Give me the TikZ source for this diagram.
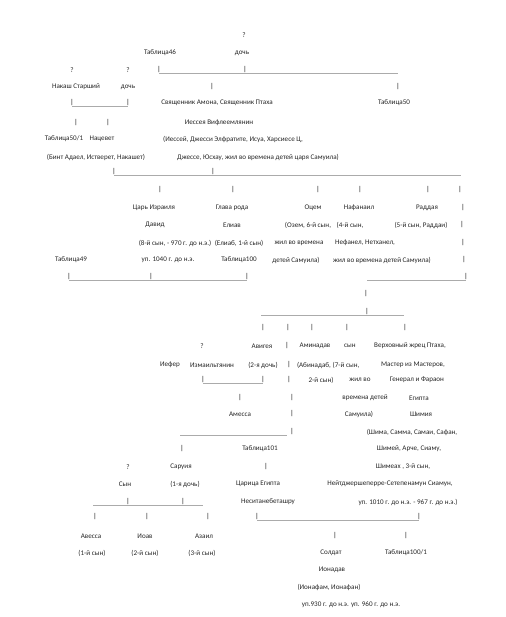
\documentclass[tikz,border=0pt]{standalone}
\usepackage{fontspec}
\setmainfont{Carlito}
\usepackage{xcolor}
\usepackage{tikz}
\definecolor{rulegray}{HTML}{ABABAB}
\definecolor{treetext}{HTML}{262626}

\begin{document}
\begin{tikzpicture}[
  x=1pt, y=-1pt,
  txt/.style={inner sep=0pt, font=\fontsize{7.1}{8}\selectfont, text=treetext},
  bar/.style={inner sep=0pt, font=\fontsize{7.1}{8}\selectfont},
  rule/.style={draw=rulegray, line width=0.9pt}
]
\useasboundingbox (0,0) rectangle (505,617);

% top generations
\node[txt] (q0) at (244,35) {?};
\node[txt] (t46) at (160,53) {Таблица46};
\node[txt] (d0) at (242,53) {дочь};
\node[txt] (q1) at (72,70) {?};
\node[txt] (q2) at (128,70) {?};
\node[bar] (b1) at (159,70) {|};
\node[bar] (b2) at (245,70) {|};
\coordinate (e1) at (398,70);
\draw[rule] (b1.south) -- (b2.south);
\draw[rule] (b2.south) -- (b2.south -| e1);

\node[txt] (nakash) at (76,87) {Накаш Старший};
\node[txt] (d1) at (128,87) {дочь};
\node[bar] (b3) at (212,87) {|};
\node[bar] (b4) at (398,87) {|};

\node[bar] (b5) at (72,103) {|};
\node[bar] (b6) at (128,103) {|};
\draw[rule] (b5.south) -- (b6.south);
\node[txt] (priest) at (217,103) {Священник Амона, Священник Птаха};
\node[txt] (t50) at (394,103) {Таблица50};

\node[bar] (b7) at (76,123) {|};
\node[bar] (b8) at (108,123) {|};
\node[txt] (jesse) at (219,123) {Иессея Вифлеемлянин};

\node[txt] (t501) at (64,139) {Таблица50/1};
\node[txt] (nacevet) at (102,139) {Нацевет};
\node[txt] (jesse1) at (233,139) {(Иессей, Джесси Элфратите, Исуа, Харсиесе Ц,};
\node[txt] (nacevet1) at (96,157) {(Бинт Адаел, Истверет, Накашет)};
\node[txt] (jesse2) at (258,157) {Джессе, Юсхау, жил во времена детей царя Самуила)};

% sons of Jesse
\node[bar] (b9) at (114,172) {|};
\node[bar] (b10) at (213,172) {|};
\coordinate (e2) at (461,172);
\draw[rule] (b9.south) -- (b10.south);
\draw[rule] (b10.south) -- (b10.south -| e2);

\node[bar] (b11) at (160,190) {|};
\node[bar] (b12) at (233,190) {|};
\node[bar] (b13) at (318,190) {|};
\node[bar] (b14) at (360,190) {|};
\node[bar] (b15) at (428,190) {|};
\node[bar] (b16) at (460,190) {|};

\node[txt] (king) at (154,208) {Царь Израиля};
\node[txt] (head) at (232,208) {Глава рода};
\node[txt] (ocem) at (313,208) {Оцем};
\node[txt] (nafan) at (359,208) {Нафанаил};
\node[txt] (radd) at (427,208) {Раддая};
\node[bar] (b17) at (463,208) {|};

\node[txt] (david) at (155,225) {Давид};
\node[txt] (eliav) at (232,225) {Елиав};
\node[txt] (ocem1) at (308,225) {(Озем, 6-й сын,};
\node[txt] (nafan1) at (350,225) {(4-й сын,};
\node[txt] (radd1) at (421,225) {(5-й сын, Раддаи)};
\node[bar] (b18) at (462,225) {|};

\node[txt] (david1) at (175,243) {(8-й сын, - 970 г. до н.э.)};
\node[txt] (eliav1) at (239,243) {(Елиаб, 1-й сын)};
\node[txt] (ocem2) at (299,243) {жил во времена};
\node[txt] (nafan2) at (365,243) {Нефанел, Нетханел,};
\node[bar] (b19) at (463,243) {|};

\node[txt] (t49) at (71,260) {Таблица49};
\node[txt] (david2) at (168,260) {уп. 1040 г. до н.э.};
\node[txt] (t100) at (239,260) {Таблица100};
\node[txt] (ocem3) at (296,260) {детей Самуила)};
\node[txt] (nafan3) at (382,260) {жил во времена детей Самуила)};
\node[bar] (b20) at (464,260) {|};

\node[bar] (b21) at (69,277) {|};
\node[bar] (b22) at (151,277) {|};
\node[bar] (b23) at (247,277) {|};
\draw[rule] (b21.south) -- (b22.south);
\draw[rule] (b22.south) -- (b23.south);
\coordinate (e3) at (367,277);
\node[bar] (b24) at (466,277) {|};
\draw[rule] (b24.south -| e3) -- (b24.south);

\node[bar] (b25) at (366,294) {|};

% daughters and sons
\coordinate (e4) at (261,312);
\node[bar] (b26) at (367,312) {|};
\coordinate (e5) at (404,312);
\draw[rule] (b26.south -| e4) -- (b26.south);
\draw[rule] (b26.south) -- (b26.south -| e5);

\node[bar] (b27) at (263,328) {|};
\node[bar] (b28) at (288,328) {|};
\node[bar] (b29) at (312,328) {|};
\node[bar] (b30) at (347,328) {|};
\node[bar] (b31) at (405,328) {|};

\node[txt] (q3) at (202,346) {?};
\node[txt] (avigea) at (262,346) {Авигея};
\node[bar] (b32) at (287,346) {|};
\node[txt] (aminadav) at (315,346) {Аминадав};
\node[txt] (son) at (350,346) {сын};
\node[txt] (ptah) at (410,346) {Верховный жрец Птаха,};

\node[txt] (iefer) at (170,365) {Иефер};
\node[txt] (ismael) at (212,365) {Измаильтянин};
\node[txt] (avigea1) at (263,365) {(2-я дочь)};
\node[bar] (b33) at (289,365) {|};
\node[txt] (aminadav1) at (314,365) {(Абинадаб,};
\node[txt] (son1) at (346,365) {(7-й сын,};
\node[txt] (ptah1) at (413,365) {Мастер из Мастеров,};

\node[bar] (b34) at (203,380) {|};
\node[bar] (b35) at (263,380) {|};
\draw[rule] (b34.south) -- (b35.south);
\node[bar] (b36) at (289,380) {|};
\node[txt] (aminadav2) at (321,380) {2-й сын)};
\node[txt] (son2) at (360,380) {жил во};
\node[txt] (ptah2) at (417,380) {Генерал и Фараон};

\node[bar] (b37) at (240,398) {|};
\node[bar] (b38) at (292,398) {|};
\node[txt] (son3) at (365,398) {времена детей};
\node[txt] (ptah3) at (419,398) {Египта};

\node[txt] (amessa) at (240,414) {Амесса};
\node[bar] (b39) at (292,414) {|};
\node[txt] (son4) at (359,414) {Самуила)};
\node[txt] (shimia) at (421,414) {Шимия};

\coordinate (e6) at (180,432);
\coordinate (e7) at (287,432);
\node[bar] (b40) at (292,432) {|};
\draw[rule] (b40.south -| e6) -- (b40.south -| e7);
\node[txt] (shimia1) at (412,432) {(Шима, Самма, Самаи, Сафан,};

\node[bar] (b41) at (182,449) {|};
\node[txt] (t101) at (260,449) {Таблица101};
\node[txt] (shimia2) at (409,449) {Шимей, Арче, Сиаму,};

\node[txt] (q4) at (128,467) {?};
\node[txt] (saruia) at (181,467) {Саруия};
\node[bar] (b42) at (266,467) {|};
\node[txt] (shimia3) at (403,467) {Шимеах , 3-й сын,};

\node[txt] (son5) at (125,484) {Сын};
\node[txt] (saruia1) at (185,484) {(1-я дочь)};
\node[txt] (queen) at (258,484) {Царица Египта};
\node[txt] (siamun) at (390,484) {Нейтджершеперре-Сетепенамун Сиамун,};

% grandchildren
\coordinate (e8) at (93,502);
\node[bar] (b43) at (128,502) {|};
\node[bar] (b44) at (183,502) {|};
\coordinate (e9) at (203,502);
\draw[rule] (b43.south -| e8) -- (b43.south);
\draw[rule] (b43.south) -- (b44.south);
\draw[rule] (b44.south) -- (b44.south -| e9);
\node[txt] (queen1) at (268,502) {Неситанебеташру};
\node[txt] (siamun1) at (408,502) {уп. 1010 г. до н.э. - 967 г. до н.э.)};

\node[bar] (b45) at (95,517) {|};
\node[bar] (b46) at (147,517) {|};
\node[bar] (b47) at (208,517) {|};
\node[bar] (b48) at (257,517) {|};
\node[bar] (b49) at (419,517) {|};
\draw[rule] (b48.south) -- (b49.south);

\node[txt] (avessa) at (91,536) {Авесса};
\node[txt] (ioav) at (145,536) {Иоав};
\node[txt] (azail) at (204,536) {Азаил};
\node[bar] (b50) at (335,536) {|};
\node[bar] (b51) at (406,536) {|};

\node[txt] (avessa1) at (92,553) {(1-й сын)};
\node[txt] (ioav1) at (145,553) {(2-й сын)};
\node[txt] (azail1) at (202,553) {(3-й сын)};
\node[txt] (soldier) at (331,553) {Солдат};
\node[txt] (t1001) at (406,553) {Таблица100/1};

\node[txt] (ionadav) at (332,570) {Ионадав};
\node[txt] (ionadav1) at (329,587) {(Ионафам, Ионафан)};
\node[txt] (ionadav2) at (351,605) {уп.930 г. до н.э. уп. 960 г. до н.э.};
\end{tikzpicture}
\end{document}
